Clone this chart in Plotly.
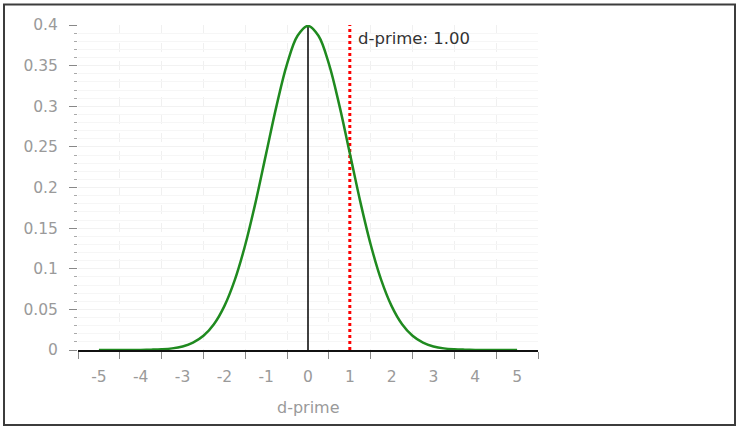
import plotly.graph_objects as go

# ---- data ----
x_vals = [-5.0, -4.75, -4.5, -4.25, -4.0, -3.75, -3.5, -3.25, -3.0, -2.75, -2.5, -2.25,
          -2.0, -1.75, -1.5, -1.25, -1.0, -0.75, -0.5, -0.25, 0.0, 0.25, 0.5, 0.75,
          1.0, 1.25, 1.5, 1.75, 2.0, 2.25, 2.5, 2.75, 3.0, 3.25, 3.5, 3.75, 4.0,
          4.25, 4.5, 4.75, 5.0]
density = [0.0, 0.0, 0.0, 0.0, 0.0001, 0.0004, 0.0009, 0.002, 0.0044, 0.0091, 0.0175, 0.0317,
           0.054, 0.0863, 0.1295, 0.1826, 0.242, 0.3011, 0.3521, 0.3867, 0.3989, 0.3867, 0.3521, 0.3011,
           0.242, 0.1826, 0.1295, 0.0863, 0.054, 0.0317, 0.0175, 0.0091, 0.0044, 0.002, 0.0009, 0.0004, 0.0001,
           0.0, 0.0, 0.0, 0.0]
mean_x = 0.0
mean_peak = 0.3989
dprime = 1.0
x_tick_vals = [-5, -4, -3, -2, -1, 0, 1, 2, 3, 4, 5]
x_tick_text = ["-5", "-4", "-3", "-2", "-1", "0", "1", "2", "3", "4", "5"]
y_tick_vals = [0, 0.05, 0.1, 0.15, 0.2, 0.25, 0.3, 0.35, 0.4]
y_tick_text = ["0", "0.05", "0.1", "0.15", "0.2", "0.25", "0.3", "0.35", "0.4"]
annotation_text = "d-prime: 1.00"
x_title = "d-prime"

FONT = "DejaVu Sans"
GRAY = "#9a9a9a"

fig = go.Figure()

# mean line (black)
fig.add_trace(go.Scatter(x=[mean_x, mean_x], y=[0, mean_peak], mode="lines",
                         line=dict(color="black", width=1.5), hoverinfo="skip",
                         showlegend=False, cliponaxis=False))
# d-prime line (red dotted)
fig.add_trace(go.Scatter(x=[dprime, dprime], y=[0, 0.4], mode="lines",
                         line=dict(color="#ff0000", width=3, dash="dot"), hoverinfo="skip",
                         showlegend=False, cliponaxis=False))
# density curve
fig.add_trace(go.Scatter(x=x_vals, y=density, mode="lines",
                         line=dict(color="#1f8a1f", width=2.5, shape="spline"),
                         showlegend=False, cliponaxis=False))

fig.add_annotation(x=dprime, y=0.4, xref="x", yref="y", text=annotation_text,
                   showarrow=False, xanchor="left", yanchor="top", xshift=6, yshift=-2,
                   font=dict(family=FONT, size=16.5, color="#333333"))

fig.add_annotation(x=0.5, y=-0.178, xref="paper", yref="paper", text=x_title,
                   showarrow=False, xanchor="center", yanchor="middle",
                   font=dict(family=FONT, size=16, color=GRAY))

# outer border
fig.add_shape(type="rect", xref="paper", yref="paper",
              x0=(4 - 78) / 460, x1=(735 - 78) / 460,
              y0=(350 - 425) / 325, y1=(350 - 4.5) / 325,
              line=dict(color="#3c3c3c", width=2), layer="above")

fig.update_layout(
    width=739, height=431,
    margin=dict(l=78, r=201, t=25, b=81),
    paper_bgcolor="white", plot_bgcolor="white",
    font=dict(family=FONT, size=15, color=GRAY),
    showlegend=False,
)

fig.update_xaxes(
    range=[-5.5, 5.5], tickmode="array", tickvals=x_tick_vals, ticktext=x_tick_text,
    ticks="outside", ticklen=11, tickcolor="rgba(0,0,0,0)",
    showgrid=False, zeroline=False,
    showline=True, linecolor="#111111", linewidth=2,
    tickfont=dict(family=FONT, size=15.5, color=GRAY),
    minor=dict(tick0=-5.5, dtick=1, ticks="outside", ticklen=7, tickcolor="#888888",
               tickwidth=1, showgrid=True, gridcolor="#f0f0f0", griddash="dash", gridwidth=1),
)

fig.update_yaxes(
    range=[0, 0.4], tickmode="array", tickvals=y_tick_vals, ticktext=y_tick_text,
    ticks="outside", ticklen=8, tickcolor="#888888", tickwidth=1,
    ticklabelstandoff=8,
    showgrid=True, gridcolor="#f2f2f2", zeroline=False, showline=False,
    tickfont=dict(family=FONT, size=15.5, color=GRAY),
    minor=dict(dtick=0.01, ticks="outside", ticklen=3, tickcolor="#aaaaaa",
               showgrid=True, gridcolor="#f6f6f6"),
)

fig.write_html("out.html")
